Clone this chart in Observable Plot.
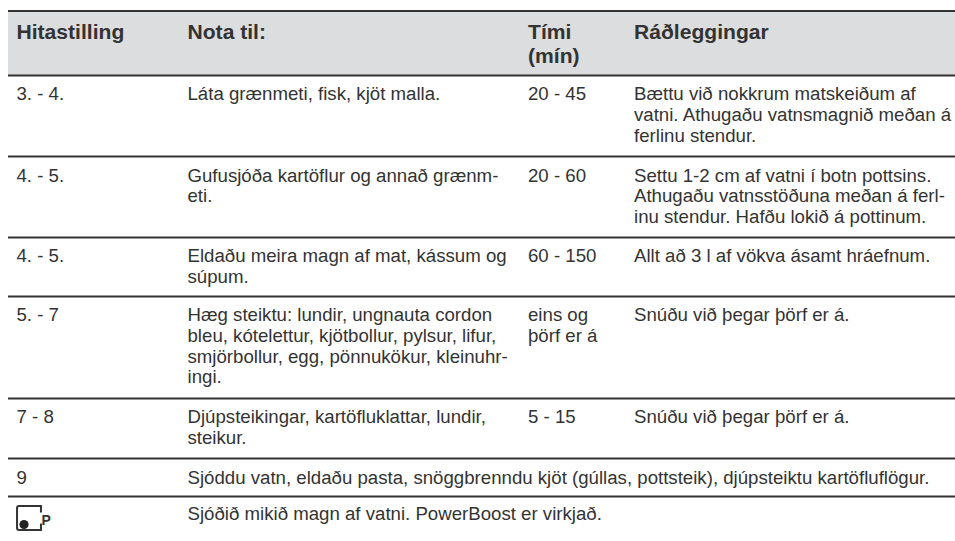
<!DOCTYPE html>
<html><head><meta charset="utf-8">
<script src="https://cdn.jsdelivr.net/npm/d3@7"></script>
<script src="https://cdn.jsdelivr.net/npm/@observablehq/plot@0.6"></script>
<style>html,body{margin:0;padding:0;background:#fff}svg{display:block}</style>
</head><body><div id="c"></div>
<script>
const columns = ["Hitastilling", "Nota til:", "Tími\n(mín)", "Ráðleggingar"];
const heat = ["3. - 4.", "4. - 5.", "4. - 5.", "5. - 7", "7 - 8", "9"];
const food = [
  "Láta grænmeti, fisk, kjöt malla.",
  "Gufusjóða kartöflur og annað grænm-\neti.",
  "Eldaðu meira magn af mat, kássum og\nsúpum.",
  "Hæg steiktu: lundir, ungnauta cordon\nbleu, kótelettur, kjötbollur, pylsur, lifur,\nsmjörbollur, egg, pönnukökur, kleinuhr-\ningi.",
  "Djúpsteikingar, kartöfluklattar, lundir,\nsteikur.",
  "Sjóddu vatn, eldaðu pasta, snöggbrenndu kjöt (gúllas, pottsteik), djúpsteiktu kartöfluflögur."
];
const minutes = ["20 - 45", "20 - 60", "60 - 150", "eins og\nþörf er á", "5 - 15", ""];
const advice = [
  "Bættu við nokkrum matskeiðum af\nvatni. Athugaðu vatnsmagnið meðan á\nferlinu stendur.",
  "Settu 1-2 cm af vatni í botn pottsins.\nAthugaðu vatnsstöðuna meðan á ferl-\ninu stendur. Hafðu lokið á pottinum.",
  "Allt að 3 l af vökva ásamt hráefnum.",
  "Snúðu við þegar þörf er á.",
  "Snúðu við þegar þörf er á.",
  ""
];
const lastRow = "Sjóðið mikið magn af vatni. PowerBoost er virkjað.";
const ruleRows = [0, 1, 2, 3, 4, 5, 6, 7];

const body = [];
heat.forEach((t, i) => body.push({col: 0, row: i + 1, t}));
food.forEach((t, i) => body.push({col: 1, row: i + 1, t}));
minutes.forEach((t, i) => t && body.push({col: 2, row: i + 1, t}));
advice.forEach((t, i) => t && body.push({col: 3, row: i + 1, t}));
body.push({col: 1, row: 7, t: lastRow});
const head = columns.map((t, col) => ({col, row: 0, t}));

// bracket-shaped hob icon, as a custom dot symbol
const boxSymbol = {draw(ctx, size) {
  const s = Math.sqrt(size) / 2, c = 2;
  ctx.moveTo(s, -s * 0.45);
  ctx.lineTo(s, -s);
  ctx.lineTo(-s + c, -s);
  ctx.arcTo(-s, -s, -s, -s + c, c);
  ctx.lineTo(-s, s - c);
  ctx.arcTo(-s, s, -s + c, s, c);
  ctx.lineTo(s, s);
  ctx.lineTo(s, s * 0.45);
}};
const font = "Liberation Sans, Arial, sans-serif";
const bodySize = 18.65, headSize = 21.1, ink = "#333";
const firstBaseline = {1: 23, 2: 23.5, 3: 23, 4: 23, 5: 23, 6: 24, 7: 22};

const bodyMarks = Object.keys(firstBaseline).map(Number).map(row =>
  Plot.text(body.filter(d => d.row === row), {
    x: "col", y: "row", text: "t", textAnchor: "start", lineAnchor: "top",
    dy: firstBaseline[row] - 0.71 * bodySize,
    fontSize: bodySize, lineHeight: 1.115, fill: ink
  })
);

const chart = Plot.plot({
  width: 955, height: 541,
  margin: 0,
  style: {background: "#fff", fontFamily: font},
  x: {axis: null, type: "linear", domain: [-1, 0, 1, 2, 3, 4], range: [0, 16, 187, 527.5, 633.5, 955]},
  y: {axis: null, type: "linear", domain: [0, 1, 2, 3, 4, 5, 6, 7, 8], range: [10.5, 75, 156, 237, 296, 398, 458, 496, 541]},
  marks: [
    Plot.rect([0], {x1: -0.5, x2: 4, y1: 0, y2: 1, fill: "#dcddde"}),
    Plot.ruleY(ruleRows, {x1: -0.5, x2: 4, y: d => d, stroke: "#333", strokeWidth: 2}),
    Plot.text(head, {x: "col", y: "row", text: "t", textAnchor: "start", lineAnchor: "top", dy: 25.5 - 0.71 * headSize, fontSize: headSize, fontWeight: "bold", lineHeight: 1.16, fill: ink}),
    ...bodyMarks,
    Plot.dot([0], {x: 0, y: 7, symbol: boxSymbol, r: 13.5, stroke: "#333", strokeWidth: 2, fill: "none", dx: 12.5, dy: 21.5}),
    Plot.dot([0], {x: 0, y: 7, r: 4.6, fill: "#222", stroke: "none", dx: 7.5, dy: 28}),
    Plot.text(["P"], {x: 0, y: 7, text: d => d, textAnchor: "start", lineAnchor: "bottom", dx: 25, dy: 28, fontSize: 14, fontWeight: "bold", fill: "#333"})
  ]
});
document.getElementById("c").append(chart);
</script></body></html>
